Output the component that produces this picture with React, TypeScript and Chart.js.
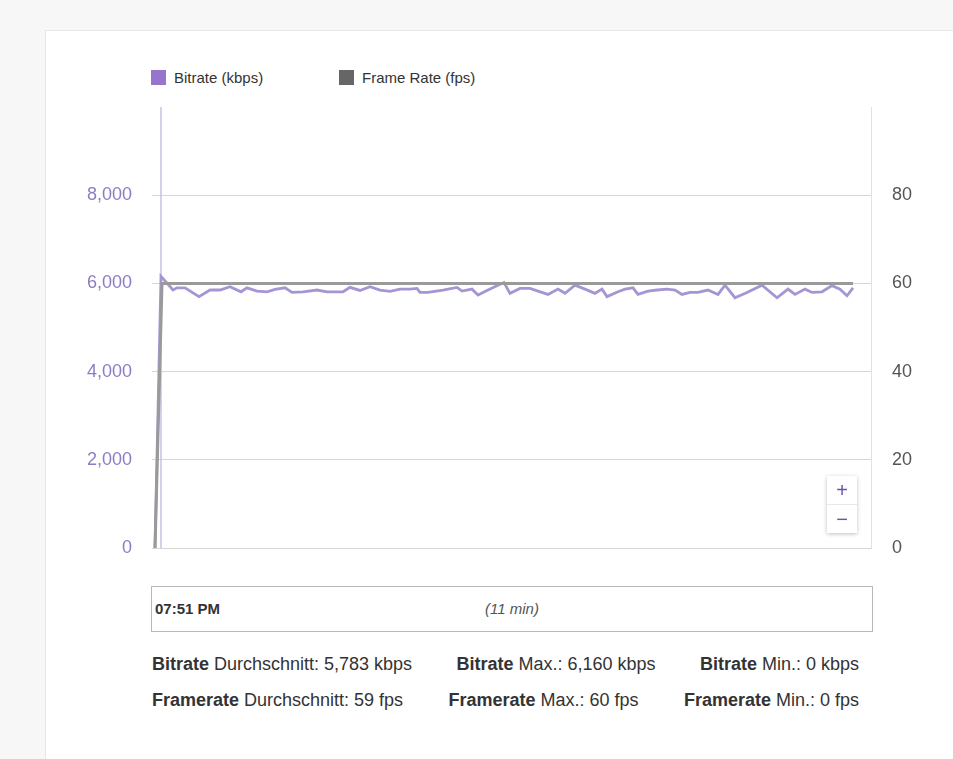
import React, { useEffect, useRef } from "react";
import { Chart, registerables } from "chart.js";

Chart.register(...registerables);

// ---- data (time in seconds from stream start) ----
const seriesNames = ["Bitrate (kbps)", "Frame Rate (fps)"];
const legendColors = ["#9575cd", "#666666"];

const bitrateTimes = [
  0, 6, 18, 22, 30, 44, 55, 65, 75, 86, 92, 102, 112, 120, 130, 137, 148, 162, 172, 188,
  195, 205, 215, 225, 235, 245, 255, 262, 265, 273, 288, 302, 307, 317, 323, 333, 343, 349,
  355, 365, 375, 383, 393, 403, 410, 420, 430, 440, 447, 452, 463, 470, 478, 483, 493, 502,
  512, 520, 527, 535, 543, 553, 563, 570, 580, 592, 607, 622, 633, 640, 650, 657, 667, 677,
  685, 692, 698,
];
const bitrateValues = [
  0, 6160, 5850, 5900, 5900, 5700, 5850, 5850, 5925, 5810, 5900, 5825, 5810, 5865, 5900, 5795,
  5810, 5850, 5810, 5810, 5910, 5840, 5925, 5850, 5820, 5870, 5870, 5885, 5795, 5795, 5850,
  5910, 5825, 5870, 5735, 5850, 5960, 6020, 5775, 5885, 5885, 5825, 5750, 5870, 5775, 5960,
  5870, 5775, 5870, 5700, 5810, 5870, 5900, 5750, 5825, 5850, 5870, 5850, 5750, 5795, 5795,
  5850, 5750, 5960, 5675, 5795, 5960, 5675, 5870, 5750, 5870, 5795, 5810, 5950, 5870, 5720,
  5900,
];
const frameTimes = [0, 7, 698];
const frameValues = [0, 60, 60];

const markerTime = 6;
const timeRange = [-3, 716];

const bitrateTicks = [0, 2000, 4000, 6000, 8000];
const bitrateMax = 10000;
const fpsTicks = [0, 20, 40, 60, 80];
const fpsMax = 100;

const startLabel = "07:51 PM";
const durationLabel = "(11 min)";

const statsRow1 = [
  ["Bitrate", " Durchschnitt: 5,783 kbps"],
  ["Bitrate", " Max.: 6,160 kbps"],
  ["Bitrate", " Min.: 0 kbps"],
];
const statsRow2 = [
  ["Framerate", " Durchschnitt: 59 fps"],
  ["Framerate", " Max.: 60 fps"],
  ["Framerate", " Min.: 0 fps"],
];

const FONT = '"Liberation Sans", Arial, sans-serif';

const markerPlugin = {
  id: "marker",
  beforeDatasetsDraw(chart: any) {
    const { ctx, chartArea, scales } = chart;
    const x = scales.x.getPixelForValue(markerTime);
    ctx.save();
    ctx.strokeStyle = "#c9c1e3";
    ctx.lineWidth = 1.5;
    ctx.beginPath();
    ctx.moveTo(x, chartArea.top);
    ctx.lineTo(x, chartArea.bottom);
    ctx.stroke();
    ctx.restore();
  },
};

export default function App() {
  const ref = useRef<HTMLCanvasElement | null>(null);

  useEffect(() => {
    if (!ref.current) return;
    const chart = new Chart(ref.current, {
      type: "line",
      data: {
        datasets: [
          {
            label: seriesNames[1],
            data: frameTimes.map((t, i) => ({ x: t, y: frameValues[i] })),
            borderColor: "#9a9a9a",
            borderWidth: 3,
            pointRadius: 0,
            tension: 0,
            yAxisID: "y1",
          },
          {
            label: seriesNames[0],
            data: bitrateTimes.map((t, i) => ({ x: t, y: bitrateValues[i] })),
            borderColor: "#a596d3",
            borderWidth: 2.8,
            pointRadius: 0,
            tension: 0,
            yAxisID: "y",
          },
        ],
      },
      options: {
        animation: false,
        responsive: true,
        maintainAspectRatio: false,
        layout: { padding: { top: 7, bottom: 12, left: 0, right: 0 } },
        plugins: { legend: { display: false }, tooltip: { enabled: false } },
        scales: {
          x: { type: "linear", min: timeRange[0], max: timeRange[1], display: false },
          y: {
            position: "left",
            min: 0,
            max: bitrateMax,
            afterBuildTicks: (s: any) => {
              s.ticks = [...bitrateTicks, bitrateMax].map((v) => ({ value: v }));
            },
            afterFit: (s: any) => {
              s.width = 92;
              s.paddingTop = 0;
              s.paddingBottom = 0;
            },
            ticks: {
              padding: 20,
              color: "#8e7cc3",
              font: { family: FONT, size: 18 },
              callback: (v: any) => (bitrateTicks.includes(v) ? Number(v).toLocaleString("en-US") : null),
            },
            grid: { color: "#d6d6d6", drawTicks: false, lineWidth: 1 },
            border: { display: false },
          },
          y1: {
            position: "right",
            min: 0,
            max: fpsMax,
            afterBuildTicks: (s: any) => {
              s.ticks = [...fpsTicks, fpsMax].map((v) => ({ value: v }));
            },
            afterFit: (s: any) => {
              s.width = 69;
              s.paddingTop = 0;
              s.paddingBottom = 0;
            },
            ticks: {
              padding: 21,
              color: "#555555",
              font: { family: FONT, size: 18 },
              callback: (v: any) => (fpsTicks.includes(v) ? String(v) : null),
            },
            grid: { display: false, drawTicks: false },
            border: { display: true, color: "#e2e2e2" },
          },
        },
      },
      plugins: [markerPlugin],
    });
    return () => chart.destroy();
  }, []);

  const statRow = (row: string[][], top: number) => (
    <div
      style={{
        position: "absolute",
        left: 152,
        top,
        width: 707,
        display: "flex",
        justifyContent: "space-between",
        fontSize: 18,
        color: "#333",
        whiteSpace: "nowrap",
      }}
    >
      {row.map((r, i) => (
        <span key={i}>
          <b>{r[0]}</b>
          {r[1]}
        </span>
      ))}
    </div>
  );

  return (
    <div
      style={{
        position: "fixed",
        left: 0,
        top: 0,
        width: 953,
        height: 759,
        background: "#f7f7f7",
        fontFamily: FONT,
        overflow: "hidden",
      }}
    >
      <div
        style={{
          position: "absolute",
          left: 45,
          top: 30,
          width: 960,
          height: 760,
          background: "#fff",
          border: "1px solid #e6e6e6",
        }}
      />
      {/* legend */}
      <div style={{ position: "absolute", left: 151, top: 69, display: "flex" }}>
        {seriesNames.map((n, i) => (
          <div key={i} style={{ width: 188, display: "flex", alignItems: "center", fontSize: 15, color: "#333" }}>
            <span
              style={{ display: "inline-block", width: 15, height: 15, background: legendColors[i], marginRight: 8 }}
            />
            <span>{n}</span>
          </div>
        ))}
      </div>
      {/* chart */}
      <div style={{ position: "absolute", left: 60, top: 100, width: 880, height: 460 }}>
        <canvas ref={ref} />
      </div>
      {/* zoom buttons */}
      <div
        style={{
          position: "absolute",
          left: 827,
          top: 476,
          width: 30,
          height: 57,
          background: "#fff",
          boxShadow: "0 1px 4px rgba(0,0,0,0.25)",
          color: "#6c52a8",
          fontSize: 20,
          textAlign: "center",
        }}
      >
        <div style={{ height: 28, lineHeight: "28px", borderBottom: "1px solid #e8e8e8" }}>+</div>
        <div style={{ height: 28, lineHeight: "28px" }}>−</div>
      </div>
      {/* range box */}
      <div
        style={{
          position: "absolute",
          left: 151,
          top: 586,
          width: 722,
          height: 46,
          boxSizing: "border-box",
          border: "1px solid #b8b8b8",
          fontSize: 15,
        }}
      >
        <span style={{ position: "absolute", left: 3, top: 13, fontWeight: "bold", color: "#333" }}>{startLabel}</span>
        <span
          style={{
            position: "absolute",
            left: 0,
            width: "100%",
            textAlign: "center",
            top: 13,
            fontStyle: "italic",
            color: "#555",
          }}
        >
          {durationLabel}
        </span>
      </div>
      {statRow(statsRow1, 654)}
      {statRow(statsRow2, 690)}
    </div>
  );
}
